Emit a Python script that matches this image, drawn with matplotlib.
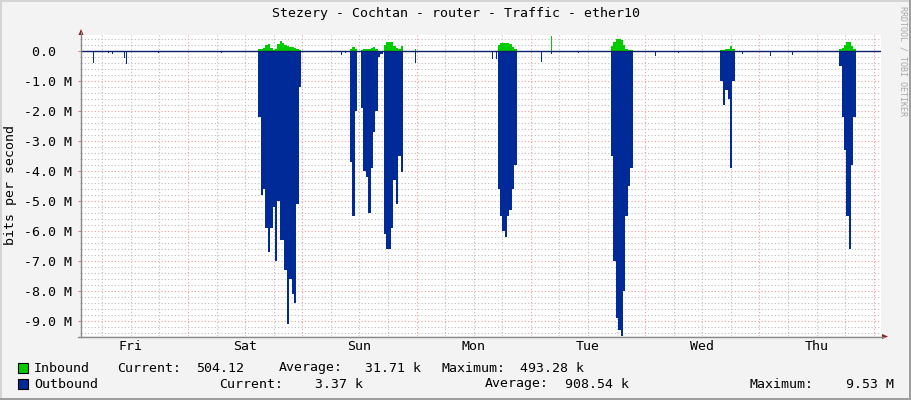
import matplotlib
matplotlib.use("Agg")
import matplotlib.pyplot as plt
from matplotlib.lines import Line2D
from matplotlib.patches import Polygon, Rectangle

# time axis: hours relative to Saturday 00:00, outbound negative (M bits/s)
T_START, T_END = -22.47, 145.53
STEP = 0.5

day_labels = ["Fri", "Sat", "Sun", "Mon", "Tue", "Wed", "Thu"]
day_centers = [-12, 12, 36, 60, 84, 108, 132]

# bursts: (start hour, values at 30 min steps)
out_bursts = [
    (14.75, [-2.2, -4.8, -4.6, -5.9, -6.7, -5.9, -5.2, -7.0, -5.0, -6.3, -6.3,
             -7.3, -9.1, -7.6, -8.1, -8.4, -5.1, -1.2]),
    (34.0, [-3.7, -5.5, -2.0]),
    (36.35, [-1.9, -4.0, -4.2, -5.4, -3.9, -2.7, -2.0, -0.2, -0.1]),
    (41.15, [-6.1, -6.6, -6.6, -5.9, -4.3, -5.1, -3.5, -4.05]),
    (65.0, [-4.6, -5.5, -6.0, -6.2, -5.5, -5.3, -4.6, -3.8]),
    (88.85, [-3.5, -7.0, -8.9, -9.3, -9.53, -8.0, -5.5, -4.5, -3.9]),
    (111.8, [-1.0, -1.8, -1.3, -1.6, -3.9, -1.0]),
    (136.75, [-0.5, -2.2, -3.3, -5.5, -6.6, -3.8, -2.2]),
]
in_bursts = [
    (14.75, [0.06, 0.08, 0.11, 0.19, 0.22, 0.11, 0.03, 0.08, 0.22, 0.33, 0.26,
             0.19, 0.17, 0.14, 0.13, 0.11, 0.08, 0.03]),
    (34.0, [0.08, 0.12, 0.05]),
    (36.35, [0.03, 0.06, 0.08, 0.08, 0.10, 0.14, 0.05]),
    (41.15, [0.20, 0.31, 0.31, 0.30, 0.15, 0.09, 0.06, 0.17]),
    (65.0, [0.20, 0.26, 0.26, 0.26, 0.26, 0.22, 0.12, 0.05]),
    (88.85, [0.15, 0.30, 0.41, 0.41, 0.35, 0.20, 0.08, 0.03, 0.02]),
    (111.8, [0.03, 0.04, 0.05, 0.08, 0.17, 0.05]),
    (136.75, [0.05, 0.11, 0.20, 0.30, 0.30, 0.17, 0.05]),
]

# short isolated spikes
spike_t = [-19.95, -16.8, -15.96, -13.44, -13.02, -11.55, -6.3, 6.93, 11.76,
           30.87, 32.13, 32.97, 47.67, 63.84, 64.68, 72.03, 74.13, 76.23,
           81.9, 98.07, 102.9, 116.34, 122.22, 126.84]
spike_out = [-0.41, -0.07, -0.1, -0.25, -0.45, -0.05, -0.07, -0.07, -0.05,
             -0.05, -0.15, -0.07, -0.41, -0.28, -0.28, -0.05, -0.37, -0.1,
             -0.07, -0.17, -0.07, -0.1, -0.17, -0.12]
in_spike_t = [47.67, 76.23]
in_spike_v = [0.05, 0.49]

GREEN = "#00CC00"
BLUE = "#002A97"
BG = "#F3F3F3"
MONO = "DejaVu Sans Mono"
FS = 9.5

W, H = 911, 400
fig = plt.figure(figsize=(W / 100, H / 100), dpi=100, facecolor=BG)


def px(x, y):
    return (x / W, 1 - y / H)


ax = fig.add_axes([81 / W, (H - 336) / H, 800 / W, 301 / H])
ax.set_facecolor("white")
ax.set_xlim(T_START, T_END)
ax.set_ylim(-9.5, 0.533)

for t0, vals in in_bursts:
    edges = [t0 + STEP * i for i in range(len(vals) + 1)]
    ax.stairs(vals, edges, baseline=0, fill=True, color=GREEN, lw=0, zorder=2)
for t0, vals in out_bursts:
    edges = [t0 + STEP * i for i in range(len(vals) + 1)]
    ax.stairs(vals, edges, baseline=0, fill=True, color=BLUE, lw=0, zorder=2)
ax.bar(spike_t, spike_out, width=0.3, align="edge", color=BLUE, lw=0, zorder=2)
ax.bar(in_spike_t, in_spike_v, width=0.3, align="edge", color=GREEN, lw=0, zorder=2)
ax.axhline(0, color="#0C1F6A", lw=1.0, zorder=4)

# grid
ax.set_yticks([float(v) for v in range(-9, 1)])
ax.set_yticks([v * 0.2 for v in range(-47, 3)], minor=True)
ax.set_xticks([24.0 * k for k in range(0, 7)])
ax.set_xticks([6.0 * k for k in range(-3, 25)], minor=True)
ax.set_axisbelow(True)
ax.grid(which="minor", color="#BDBDBD", lw=0.8, linestyle=(0, (1, 2)), zorder=1)
ax.grid(which="major", color="#F29A9A", lw=0.8, linestyle=(0, (1, 2)), zorder=1)

ylabels = ["0.0  " if v == 0 else f"{v:.1f} M" for v in range(-9, 1)]
ax.set_yticklabels(ylabels, fontfamily=MONO, fontsize=FS)
ax.set_xticklabels([])
ax.tick_params(axis="y", which="major", length=2, color="#E08080", pad=4.4)
ax.tick_params(axis="y", which="minor", length=1, color="#BBBBBB")
ax.tick_params(axis="x", which="both", length=0)
for s in ax.spines.values():
    s.set_visible(False)

for lab, c in zip(day_labels, day_centers):
    ax.text(c, -0.035, lab, transform=ax.get_xaxis_transform(), ha="center",
            va="center", fontfamily=MONO, fontsize=FS)

# axes with arrows
fig.add_artist(Line2D(*zip(px(81, 337), px(81, 32)), color="#888888", lw=1))
fig.add_artist(Line2D(*zip(px(78, 336.5), px(884, 336.5)), color="#888888", lw=1))
fig.add_artist(Polygon([px(78.5, 35), px(83.5, 35), px(81, 29)], closed=True,
                       color="#8B1A1A", lw=0))
fig.add_artist(Polygon([px(882, 334), px(882, 339), px(888, 336.5)], closed=True,
                       color="#8B1A1A", lw=0))

# frame shading
fig.add_artist(Rectangle((0, 0), 1, 2 / H, transform=fig.transFigure, color="#9E9E9E", lw=0))
fig.add_artist(Rectangle((1 - 2 / W, 0), 2 / W, 1, transform=fig.transFigure, color="#9E9E9E", lw=0))
fig.add_artist(Rectangle((0, 1 - 2 / H), 1 - 2 / W, 2 / H, transform=fig.transFigure, color="#D4D4D4", lw=0))
fig.add_artist(Rectangle((0, 2 / H), 2 / W, 1, transform=fig.transFigure, color="#D4D4D4", lw=0))

fig.text(*px(456, 14), "Stezery - Cochtan - router - Traffic - ether10",
         ha="center", va="center", fontfamily=MONO, fontsize=FS)
fig.text(*px(11, 185), "bits per second", rotation=90, ha="center", va="center",
         fontfamily=MONO, fontsize=FS)
fig.text(*px(903, 6), "RRDTOOL / TOBI OETIKER", rotation=270, ha="center", va="top",
         fontfamily=MONO, fontsize=6, color="#A8A8A8")

# legend
fig.add_artist(Rectangle(px(17.5, 373), 10 / W, 10 / H, transform=fig.transFigure,
                         facecolor=GREEN, edgecolor="black", lw=0.8))
fig.add_artist(Rectangle(px(17.5, 389), 10 / W, 10 / H, transform=fig.transFigure,
                         facecolor=BLUE, edgecolor="black", lw=0.8))
row1 = [(34, "Inbound", "left"), (117, "Current:", "left"), (196.5, "504.12", "left"),
        (279, "Average:", "left"), (421, "31.71 k", "right"),
        (441, "Maximum:", "left"), (520.5, "493.28 k", "left")]
row2 = [(34, "Outbound", "left"), (219, "Current:", "left"), (363, "3.37 k", "right"),
        (485, "Average:", "left"), (565, "908.54 k", "left"),
        (750, "Maximum:", "left"), (894, "9.53 M", "right")]
for y, row in ((368, row1), (384, row2)):
    for x, s, ha in row:
        fig.text(*px(x, y), s, ha=ha, va="center", fontfamily=MONO, fontsize=FS)

fig.savefig("out.png", dpi=100, facecolor=BG)
